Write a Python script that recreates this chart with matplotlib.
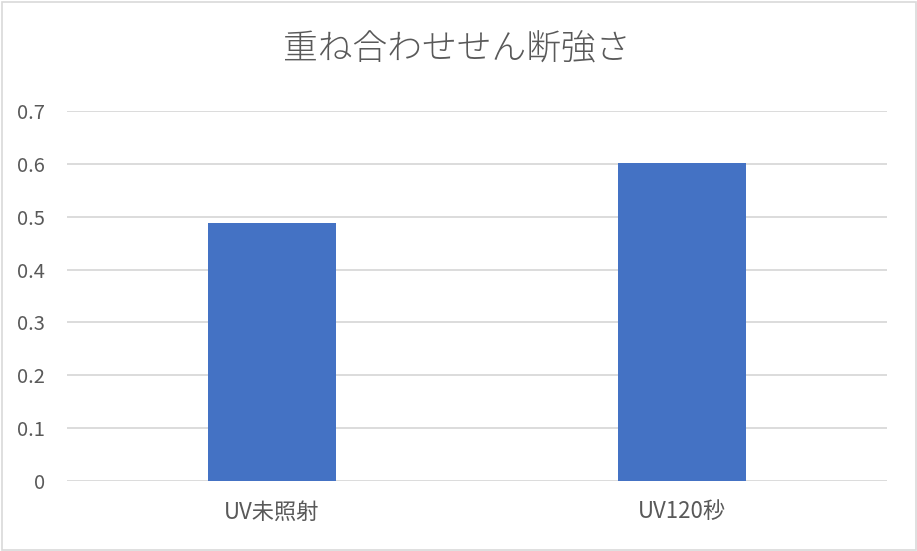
import matplotlib.pyplot as plt
from matplotlib.patches import Rectangle

plt.rcParams['font.family'] = ['Noto Sans CJK JP', 'DejaVu Sans']

title = '重ね合わせせん断強さ'
categories = ['UV未照射', 'UV120秒']
values = [0.489, 0.601]
yticks = [0, 0.1, 0.2, 0.3, 0.4, 0.5, 0.6, 0.7]

W, H = 917, 551
fig = plt.figure(figsize=(W / 100, H / 100), dpi=100)
ax = fig.add_axes([67 / W, 1 - 481 / H, 820 / W, 370 / H])

x = range(len(categories))
ax.bar(x, values, width=0.312, color='#4472C4', zorder=3)

ax.set_xlim(-0.5, len(categories) - 0.5)
ax.set_ylim(0, 0.7)
ax.set_yticks(yticks)
ax.set_yticklabels(['0' if v == 0 else f'{v:.1f}' for v in yticks])
ax.set_xticks(list(x))
ax.set_xticklabels(categories)
ax.grid(axis='y', color='#D9D9D9', linewidth=1.3, zorder=0)
for s in ax.spines.values():
    s.set_visible(False)
ax.tick_params(axis='y', length=0, labelsize=14.5, colors='#595959', pad=16)
ax.tick_params(axis='x', length=0, labelsize=16, colors='#595959', pad=14)

fig.text(457 / W, 1 - 50 / H, title, ha='center', va='center',
         fontsize=25, color='#595959', fontweight='light')

# outer chart border
fig.patches.append(Rectangle((1.5 / W, 1.5 / H), 1 - 3 / W, 1 - 3 / H,
                             transform=fig.transFigure, fill=False,
                             edgecolor='#D9D9D9', linewidth=1.2))

fig.savefig('out.png', dpi=100)
